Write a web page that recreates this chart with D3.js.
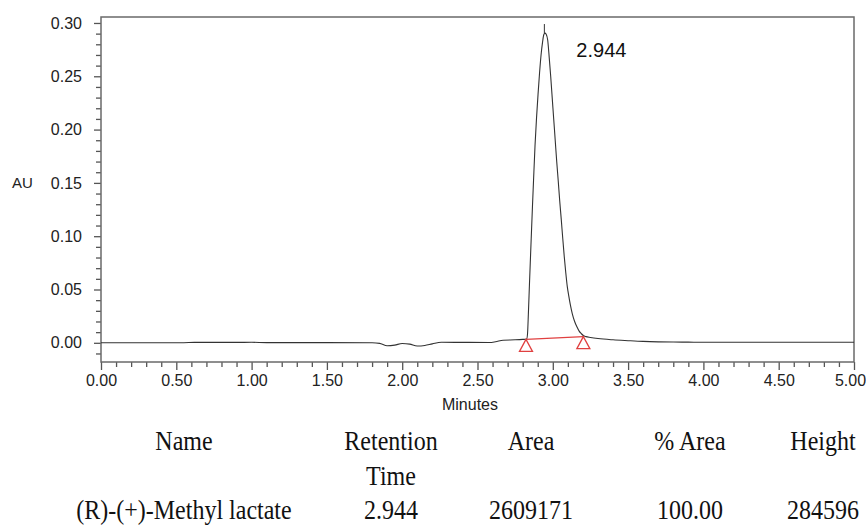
<!DOCTYPE html>
<html>
<head>
<meta charset="utf-8">
<script src="https://cdn.jsdelivr.net/npm/d3@7"></script>
<style>
  body { margin: 0; background: #fff; }
  svg { display: block; }
  .tick text { font-family: "Liberation Sans", Arial, sans-serif; font-size: 16px; fill: #222; }
  .tick line { stroke: #555; stroke-width: 1.3; }
</style>
</head>
<body>
<div id="chart"></div>
<script>
// chromatogram trace (minutes, AU)
const times = [0.00, 0.30, 0.55, 0.62, 0.70, 0.90, 1.00, 1.10, 1.50, 1.80, 1.85, 1.90, 1.95, 2.00, 2.05, 2.10, 2.15, 2.20,
  2.26, 2.40, 2.58, 2.62, 2.67, 2.75, 2.80, 2.826, 2.832, 2.838, 2.845, 2.855, 2.865, 2.872, 2.882, 2.892,
  2.902, 2.912, 2.922, 2.932, 2.940, 2.948, 2.956, 2.966, 2.976, 2.986, 2.996, 3.006, 3.016, 3.026, 3.036,
  3.046, 3.056, 3.066, 3.076, 3.086, 3.096, 3.106, 3.116, 3.130, 3.145, 3.160, 3.175, 3.190, 3.203, 3.22,
  3.25, 3.30, 3.40, 3.50, 3.60, 3.70, 3.80, 3.90, 4.00, 4.50, 5.00];
const signal = [0.0000, 0.0000, 0.0001, 0.0004, 0.0004, 0.0004, 0.0005, 0.0002, 0.0002, 0.0000, -0.0005, -0.0028, -0.0022, -0.0006, -0.0012, -0.0030, -0.0025, -0.0010,
  0.0005, 0.0004, 0.0003, 0.0010, 0.0024, 0.0028, 0.0032, 0.0035, 0.0080, 0.0280, 0.0550, 0.0920, 0.1280, 0.1520, 0.1850, 0.2110,
  0.2330, 0.2530, 0.2700, 0.2820, 0.2890, 0.2905, 0.2895, 0.2840, 0.2680, 0.2500, 0.2300, 0.2100, 0.1900, 0.1700, 0.1520,
  0.1330, 0.1160, 0.0980, 0.0810, 0.0660, 0.0530, 0.0440, 0.0360, 0.0270, 0.0200, 0.0150, 0.0110, 0.0085, 0.0068, 0.0058,
  0.0050, 0.0040, 0.0028, 0.0020, 0.0013, 0.0009, 0.0007, 0.0006, 0.0005, 0.0005, 0.0005];

// integration baseline start / end (the red triangles)
const baseTimes = [2.822, 3.203];
const baseValues = [0.0032, 0.0058];

const peakTime = 2.944;
const peakTop = 0.2905;
const peakLabel = "2.944";

const yMajor = [0.00, 0.05, 0.10, 0.15, 0.20, 0.25, 0.30];
const xMajor = [0, 0.5, 1, 1.5, 2, 2.5, 3, 3.5, 4, 4.5, 5];

const tableHeader = [["Name"], ["Retention", "Time"], ["Area"], ["% Area"], ["Height"]];
const tableRow = ["(R)-(+)-Methyl lactate", "2.944", "2609171", "100.00", "284596"];

const width = 866, height = 527;
const plot = { left: 101, right: 854, top: 17, bottom: 362 };

const svg = d3.select("#chart").append("svg")
  .attr("width", width)
  .attr("height", height);

const x = d3.scaleLinear().domain([0, 5]).range([plot.left, plot.right]);
const y = d3.scaleLinear().domain([-0.018, 0.3056]).range([plot.bottom, plot.top]);

// minor ticks
const yMinor = d3.range(-1, 31).map(i => i / 100).filter(v => Math.round(v * 100) % 5 !== 0);
const xMinor = d3.range(1, 50).map(i => i / 10).filter(v => Math.round(v * 10) % 5 !== 0);

svg.append("g")
  .attr("transform", `translate(${plot.left},0)`)
  .call(d3.axisLeft(y).tickValues(yMinor).tickSize(5).tickFormat(""))
  .call(g => g.select(".domain").remove());

svg.append("g")
  .attr("transform", `translate(${plot.left},0)`)
  .call(d3.axisLeft(y).tickValues(yMajor).tickSize(7).tickPadding(12).tickFormat(d3.format(".2f")))
  .call(g => g.select(".domain").remove());

svg.append("g")
  .attr("transform", `translate(0,${plot.bottom})`)
  .call(d3.axisBottom(x).tickValues(xMinor).tickSize(5).tickFormat(""))
  .call(g => g.select(".domain").remove());

const xAxis = svg.append("g")
  .attr("transform", `translate(0,${plot.bottom})`)
  .call(d3.axisBottom(x).tickValues(xMajor).tickSize(8).tickPadding(5).tickFormat(d3.format(".2f")))
  .call(g => g.select(".domain").remove());

// last label would run off the edge
xAxis.selectAll(".tick text").filter(d => d === 5).attr("dx", -4);

// frame
svg.append("rect")
  .attr("x", plot.left).attr("y", plot.top)
  .attr("width", plot.right - plot.left).attr("height", plot.bottom - plot.top)
  .attr("fill", "none")
  .attr("stroke", "#6a6a6a")
  .attr("stroke-width", 1.5);

// axis titles
svg.append("text")
  .attr("x", 12).attr("y", y(0.15))
  .attr("dy", "0.35em")
  .style("font-family", "Liberation Sans, Arial, sans-serif")
  .style("font-size", "15px")
  .style("fill", "#222")
  .text("AU");

svg.append("text")
  .attr("x", 470).attr("y", 410)
  .attr("text-anchor", "middle")
  .style("font-family", "Liberation Sans, Arial, sans-serif")
  .style("font-size", "16px")
  .style("fill", "#222")
  .text("Minutes");

// trace
const points = times.map((t, i) => [t, signal[i]]);
const line = d3.line()
  .x(d => x(d[0]))
  .y(d => y(d[1]))
  .curve(d3.curveMonotoneX);

svg.append("path")
  .datum(points)
  .attr("d", line)
  .attr("fill", "none")
  .attr("stroke", "#333")
  .attr("stroke-width", 1.1);

// apex marker
svg.append("line")
  .attr("x1", x(peakTime)).attr("x2", x(peakTime))
  .attr("y1", y(peakTop)).attr("y2", y(0.299))
  .attr("stroke", "#333")
  .attr("stroke-width", 1);

svg.append("text")
  .attr("x", x(peakTime) + 32)
  .attr("y", y(peakTop) + 24)
  .style("font-family", "Liberation Sans, Arial, sans-serif")
  .style("font-size", "20px")
  .style("fill", "#111")
  .text(peakLabel);

// integration baseline and markers
svg.append("line")
  .attr("x1", x(baseTimes[0])).attr("y1", y(baseValues[0]))
  .attr("x2", x(baseTimes[1])).attr("y2", y(baseValues[1]))
  .attr("stroke", "#e04040")
  .attr("stroke-width", 1.1);

svg.selectAll(".tri")
  .data(baseTimes)
  .enter().append("path")
  .attr("class", "tri")
  .attr("d", (d, i) => {
    const px = x(d), py = y(baseValues[i]);
    return `M${px},${py}L${px - 6.5},${py + 12}L${px + 6.5},${py + 12}Z`;
  })
  .attr("fill", "none")
  .attr("stroke", "#e04040")
  .attr("stroke-width", 1.3);

// results table
const colX = [184, 391, 531, 690, 823];
const lineGap = 34.5;
const headerY = 450;

function tableText(tx, ty, str) {
  svg.append("text")
    .attr("transform", `translate(${tx},${ty}) scale(1,1.18)`)
    .attr("text-anchor", "middle")
    .style("font-family", "Liberation Serif, Times New Roman, serif")
    .style("font-size", "24px")
    .style("fill", "#111")
    .text(str);
}

tableHeader.forEach((lines, c) => {
  lines.forEach((s, j) => tableText(colX[c], headerY + j * lineGap, s));
});
tableRow.forEach((s, c) => tableText(colX[c], headerY + 2 * lineGap, s));
</script>
</body>
</html>
